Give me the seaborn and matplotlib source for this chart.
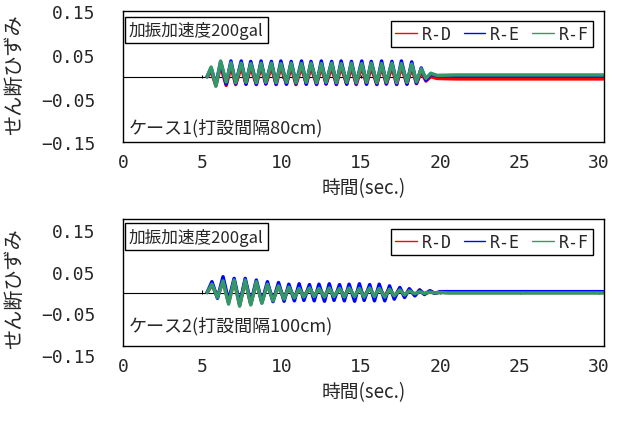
import numpy as np
import pandas as pd
import seaborn as sns
import matplotlib
matplotlib.use('Agg')
import matplotlib.pyplot as plt

# gauges and colours
gauges = ['R-D', 'R-E', 'R-F']
gauge_colors = ['#ff0000', '#0000ff', '#339966']

# ---- case 1 (pile spacing 80cm): time of each peak/trough
t_case1 = [5.3,
           5.55, 5.85, 6.15, 6.5, 6.8, 7.1,
           7.45, 7.75, 8.05, 8.4, 8.7, 9.0,
           9.35, 9.65, 9.95, 10.3, 10.6, 10.9,
           11.25, 11.55, 11.85, 12.2, 12.5, 12.8,
           13.15, 13.45, 13.75, 14.1, 14.4, 14.7,
           15.05, 15.35, 15.65, 16.0, 16.3, 16.6,
           16.95, 17.25, 17.55, 17.9, 18.2, 18.5,
           18.8, 19.1, 19.4, 19.8, 21.0, 30.3]
rd_case1 = [0.0,
            0.012, -0.020, 0.024, -0.020, 0.022, -0.018,
            0.022, -0.017, 0.021, -0.018, 0.022, -0.017,
            0.021, -0.018, 0.022, -0.017, 0.021, -0.018,
            0.022, -0.017, 0.021, -0.018, 0.022, -0.017,
            0.021, -0.018, 0.022, -0.017, 0.021, -0.018,
            0.022, -0.017, 0.021, -0.018, 0.022, -0.017,
            0.021, -0.018, 0.022, -0.017, 0.020, -0.016,
            0.010, -0.010, 0.000, -0.004, -0.005, -0.005]
re_case1 = [0.0,
            0.020, -0.018, 0.034, -0.017, 0.036, -0.016,
            0.036, -0.017, 0.035, -0.017, 0.036, -0.016,
            0.035, -0.017, 0.036, -0.017, 0.035, -0.016,
            0.036, -0.017, 0.035, -0.017, 0.036, -0.016,
            0.035, -0.017, 0.036, -0.017, 0.035, -0.016,
            0.036, -0.017, 0.035, -0.017, 0.036, -0.016,
            0.035, -0.017, 0.036, -0.017, 0.034, -0.015,
            0.020, -0.008, 0.006, 0.002, 0.002, 0.002]
rf_case1 = [0.0,
            0.022, -0.022, 0.036, -0.012, 0.032, -0.014,
            0.031, -0.013, 0.030, -0.014, 0.031, -0.013,
            0.031, -0.014, 0.030, -0.013, 0.031, -0.014,
            0.030, -0.013, 0.031, -0.014, 0.030, -0.013,
            0.031, -0.014, 0.030, -0.013, 0.031, -0.014,
            0.030, -0.013, 0.031, -0.014, 0.030, -0.013,
            0.031, -0.014, 0.030, -0.013, 0.029, -0.012,
            0.018, -0.004, 0.008, 0.003, 0.004, 0.004]

# ---- case 2 (pile spacing 100cm)
t_case2 = [5.3,
           5.6, 5.95, 6.3, 6.65, 7.0, 7.35,
           7.7, 8.05, 8.4, 8.75, 9.1, 9.45,
           9.8, 10.15, 10.45, 10.8, 11.1, 11.4,
           11.75, 12.05, 12.35, 12.7, 13.0, 13.3,
           13.65, 13.95, 14.25, 14.6, 14.9, 15.2,
           15.55, 15.85, 16.15, 16.5, 16.8, 17.1,
           17.45, 17.75, 18.05, 18.4, 18.7, 19.0,
           19.35, 19.65, 20.0, 20.5, 30.3]
rd_case2 = [0.0,
            0.018, -0.010, 0.026, -0.024, 0.028, -0.030,
            0.028, -0.028, 0.024, -0.022, 0.019, -0.018,
            0.015, -0.014, 0.013, -0.012, 0.011, -0.009,
            0.011, -0.010, 0.010, -0.009, 0.011, -0.010,
            0.010, -0.009, 0.011, -0.010, 0.010, -0.009,
            0.011, -0.010, 0.010, -0.009, 0.011, -0.010,
            0.010, -0.009, 0.008, -0.007, 0.006, -0.005,
            0.004, -0.002, 0.001, 0.000, 0.000]
re_case2 = [0.0,
            0.026, -0.014, 0.038, -0.020, 0.034, -0.028,
            0.034, -0.026, 0.030, -0.024, 0.026, -0.022,
            0.024, -0.021, 0.020, -0.020, 0.021, -0.019,
            0.019, -0.020, 0.020, -0.021, 0.021, -0.019,
            0.019, -0.020, 0.020, -0.021, 0.021, -0.019,
            0.019, -0.020, 0.020, -0.020, 0.016, -0.016,
            0.012, -0.012, 0.009, -0.008, 0.006, -0.004,
            0.004, -0.002, 0.002, 0.002, 0.002]
rf_case2 = [0.0,
            0.020, -0.012, 0.028, -0.028, 0.030, -0.033,
            0.030, -0.030, 0.026, -0.026, 0.020, -0.020,
            0.016, -0.016, 0.013, -0.013, 0.010, -0.011,
            0.011, -0.010, 0.010, -0.011, 0.011, -0.010,
            0.010, -0.011, 0.011, -0.010, 0.010, -0.011,
            0.011, -0.010, 0.010, -0.011, 0.008, -0.008,
            0.006, -0.006, 0.004, -0.003, 0.002, -0.002,
            0.001, -0.001, 0.000, -0.001, -0.001]

y_ticks = [0.15, 0.05, -0.05, -0.15]
y_tick_labels = ['0.15', '0.05', '\u22120.05', '\u22120.15']
x_ticks = [0, 5, 10, 15, 20, 25, 30]

sns.set_style('white')
plt.rcParams['font.family'] = ['Noto Sans CJK JP', 'DejaVu Sans']
mono = ['DejaVu Sans Mono', 'Noto Sans CJK JP']


def to_long(t, rd, re, rf):
    parts = []
    for name, vals in zip(gauges, [rd, re, rf]):
        parts.append(pd.DataFrame({'time': t, 'strain': vals, 'gauge': name}))
    return pd.concat(parts, ignore_index=True)


# (data, case label, y limits of the plot frame, y of box / case label / ylabel in axes fraction)
cases = [
    (to_long(t_case1, rd_case1, re_case1, rf_case1), 'ケース1(打設間隔80cm)',
     (-0.15, 0.15), 0.855, 0.115, 0.52),
    (to_long(t_case2, rd_case2, re_case2, rf_case2), 'ケース2(打設間隔100cm)',
     (-0.129, 0.177), 0.862, 0.165, 0.46),
]

fig = plt.figure(figsize=(6.25, 4.39), dpi=100)
axes = [fig.add_axes([0.197, 0.674, 0.770, 0.298]),
        fig.add_axes([0.197, 0.2096, 0.770, 0.289])]

palette = dict(zip(gauges, gauge_colors))
for ax, (df, case_label, ylim, box_y, case_y, lab_y) in zip(axes, cases):
    ax.axhline(0, color='black', lw=0.8, zorder=1)
    ax.vlines(x_ticks[1:], -0.003, 0.005, color='black', lw=0.8, zorder=1)
    sns.lineplot(data=df, x='time', y='strain', hue='gauge', hue_order=gauges,
                 palette=palette, sort=False, estimator=None, lw=2.5, ax=ax)
    ax.set_xlim(0, 30.35)
    ax.set_ylim(*ylim)
    shown = [v for v in y_ticks if ylim[0] <= v <= ylim[1]]
    ax.set_yticks(shown)
    ax.set_yticklabels([y_tick_labels[y_ticks.index(v)] for v in shown],
                       family=mono, fontsize=13)
    # labels of ticks that fall just below the frame (case 2)
    for v, lab in zip(y_ticks, y_tick_labels):
        if v < ylim[0]:
            ax.annotate(lab, xy=(0, v), xycoords=('axes fraction', 'data'),
                        xytext=(-20, 0), textcoords='offset points',
                        ha='right', va='center_baseline', family=mono,
                        fontsize=13, annotation_clip=False)
    ax.set_xticks(x_ticks)
    ax.set_xticklabels([str(v) for v in x_ticks], family=mono, fontsize=13)
    ax.tick_params(axis='y', direction='in', length=4, width=0.8, pad=20)
    ax.tick_params(axis='x', length=0, pad=8)
    for sp in ax.spines.values():
        sp.set_color('black')
        sp.set_linewidth(1)
    ax.set_xlabel('時間(sec.)', fontsize=13.5, labelpad=4)
    ax.set_ylabel('せん断ひずみ', fontsize=14.5)
    ax.yaxis.set_label_coords(-0.203, lab_y)

    handles, labels = ax.get_legend_handles_labels()
    leg = ax.legend(handles, labels, loc='upper right', bbox_to_anchor=(0.993, 0.99),
                    ncol=3, prop={'family': mono, 'size': 12}, handlelength=1.3,
                    handletextpad=0.3, columnspacing=0.7, borderpad=0.25,
                    fancybox=False, edgecolor='black', framealpha=1)
    leg.get_frame().set_linewidth(1)
    for h in leg.get_lines():
        h.set_linewidth(1)

    ax.text(0.012, box_y, '加振加速度200gal', transform=ax.transAxes, fontsize=12,
            va='center', ha='left',
            bbox=dict(boxstyle='square,pad=0.25', fc='white', ec='black', lw=1))
    ax.text(0.012, case_y, case_label, transform=ax.transAxes, fontsize=13,
            va='center', ha='left')

fig.savefig('out.png', dpi=100)
